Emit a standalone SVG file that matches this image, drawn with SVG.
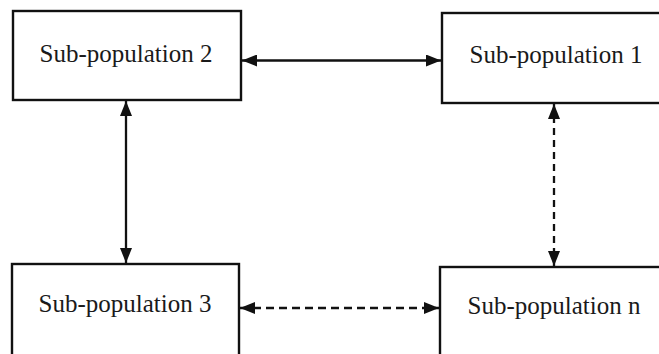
<svg xmlns="http://www.w3.org/2000/svg" width="659" height="354" viewBox="0 0 659 354">
<style>
.box{fill:#fff;stroke:#111;stroke-width:2.4}
.lbl{font-family:"Liberation Serif","Times New Roman",serif;font-size:25px;fill:#1a1a1a;text-anchor:middle}
.ln{stroke:#111;stroke-width:2.3;fill:none}
.dash{stroke-dasharray:8 5}
.vdash{stroke-dasharray:7 5}
</style>
<defs>
<marker id="ah" viewBox="0 0 15 12" refX="15" refY="6" markerWidth="15" markerHeight="12" markerUnits="userSpaceOnUse" orient="auto-start-reverse">
<path d="M0,0 L15,6 L0,12 Z" fill="#111"/>
</marker>
</defs>
<rect width="659" height="354" fill="#fff"/>
<g id="sub2"><rect class="box" x="13" y="11" width="228" height="89"/><text class="lbl" x="126" y="62">Sub-population 2</text></g>
<g id="sub1"><rect class="box" x="442" y="13" width="230" height="90"/><text class="lbl" x="556" y="63">Sub-population 1</text></g>
<g id="sub3"><rect class="box" x="12" y="264" width="227" height="100"/><text class="lbl" x="125" y="312">Sub-population 3</text></g>
<g id="subn"><rect class="box" x="440" y="267" width="232" height="100"/><text class="lbl" x="554" y="314">Sub-population n</text></g>
<g id="connectors">
<line class="ln" x1="242" y1="60.5" x2="441" y2="60.5" marker-start="url(#ah)" marker-end="url(#ah)"/>
<line class="ln" x1="126" y1="101" x2="126" y2="263" marker-start="url(#ah)" marker-end="url(#ah)"/>
<line class="ln vdash" x1="554" y1="104" x2="554" y2="266" marker-start="url(#ah)" marker-end="url(#ah)"/>
<line class="ln dash" x1="240" y1="308" x2="439" y2="308" marker-start="url(#ah)" marker-end="url(#ah)"/>
</g>
</svg>
